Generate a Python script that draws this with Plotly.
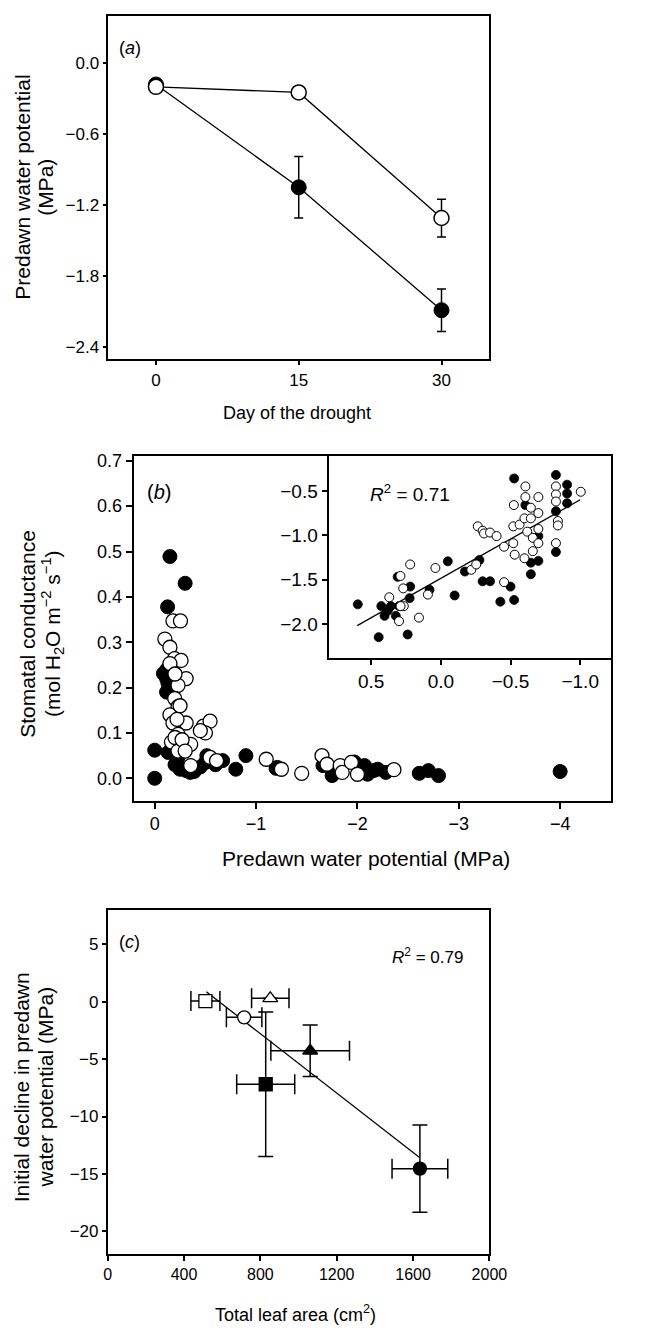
import plotly.graph_objects as go

W, H = 653, 1328

# ---------------- data ----------------
# panel (a)
days = [0, 15, 30]
psi_filled = [-0.18, -1.05, -2.09]
psi_filled_se = [0.0, 0.26, 0.18]
psi_open = [-0.20, -0.247, -1.31]
psi_open_se = [0.0, 0.0, 0.16]

# panel (b) main scatter: predawn water potential (MPa), stomatal conductance
b_filled_psi = [0.0, 0.0, -0.15, -0.30, -0.127, -0.117, -0.117, -0.133, -0.13, -0.12, -0.086, -0.117,
                -0.133, -0.20, -0.25, -0.30, -0.31, -0.39, -0.45, -0.50, -0.514, -0.60, -0.67,
                -0.80, -0.90, -1.197, -1.21, -1.66, -1.75, -1.97, -2.07, -2.10, -2.16, -2.20,
                -2.28, -2.61, -2.70, -2.80, -4.0, -0.23, -0.35]
b_filled_gs = [0.0, 0.062, 0.489, 0.43, 0.378, 0.231, 0.22, 0.195, 0.21, 0.24, 0.231, 0.19,
               0.057, 0.03, 0.02, 0.02, 0.017, 0.015, 0.025, 0.035, 0.05, 0.03, 0.039,
               0.02, 0.05, 0.022, 0.024, 0.028, 0.006, 0.036, 0.028, 0.009, 0.017, 0.02,
               0.013, 0.011, 0.017, 0.006, 0.015, 0.046, 0.013]
b_open_psi = [-0.18, -0.254, -0.10, -0.15, -0.197, -0.26, -0.15, -0.31, -0.23, -0.197, -0.23, -0.15,
              -0.18, -0.31, -0.48, -0.546, -0.50, -0.23, -0.165, -0.355, -0.23, -0.355, -0.546,
              -0.61, -1.10, -1.25, -1.45, -1.65, -1.70, -1.83, -1.85, -1.94, -2.0, -2.36,
              -0.20, -0.25, -0.20, -0.27, -0.30, -0.22, -0.45]
b_open_gs = [0.347, 0.347, 0.307, 0.289, 0.264, 0.26, 0.253, 0.22, 0.205, 0.176, 0.158, 0.14,
             0.122, 0.122, 0.115, 0.126, 0.10, 0.097, 0.08, 0.075, 0.06, 0.028, 0.046,
             0.039, 0.042, 0.02, 0.011, 0.05, 0.031, 0.028, 0.013, 0.035, 0.009, 0.019,
             0.23, 0.16, 0.09, 0.085, 0.06, 0.13, 0.105]

# panel (b) inset
in_filled_x = [0.596, 0.427, 0.358, 0.404, 0.323, 0.446, 0.238, 0.31, 0.22, 0.224, 0.081, -0.099,
               -0.05, -0.173, -0.277, -0.30, -0.353, -0.50, -0.427, -0.526, -0.526, -0.607, -0.70,
               -0.646, -0.70, -0.646, -0.826, -0.826, -0.826, -0.906, -0.906, -0.906, 0.38, 0.30]
in_filled_y = [-1.78, -1.80, -1.80, -1.91, -1.91, -2.15, -2.12, -1.47, -1.58, -1.71, -1.615, -1.68,
               -1.295, -1.41, -1.28, -1.52, -1.52, -1.58, -1.75, -1.73, -0.36, -0.66, -1.01,
               -1.31, -1.29, -1.44, -0.32, -0.73, -1.19, -0.43, -0.53, -0.64, -1.85, -1.80]
in_open_x = [0.37, 0.22, 0.29, 0.27, 0.266, 0.289, 0.30, 0.157, 0.039, 0.093, -0.219, -0.254,
             -0.265, -0.30, -0.31, -0.353, -0.40, -0.454, -0.454, -0.52, -0.53, -0.52, -0.565,
             -0.524, -0.607, -0.607, -0.646, -0.70, -0.70, -0.60, -0.646, -0.70, -0.62, -0.66,
             -0.70, -0.66, -0.60, -0.826, -0.826, -0.826, -0.84, -0.84, -0.826, -1.004]
in_open_y = [-1.70, -1.33, -1.46, -1.60, -1.80, -1.80, -1.97, -1.93, -1.37, -1.67, -1.39, -1.33,
             -0.90, -0.95, -0.98, -0.97, -1.01, -1.53, -1.13, -1.09, -1.22, -0.90, -0.88,
             -0.66, -0.45, -0.57, -0.69, -0.57, -0.75, -0.81, -0.81, -0.93, -0.96, -1.03,
             -1.09, -1.18, -1.26, -0.45, -0.54, -0.62, -0.84, -0.89, -1.09, -0.51]
in_fit_x = [0.6, -1.0]
in_fit_y = [-2.02, -0.60]

# panel (c)
leaf_area = [512, 852, 715, 828, 1061, 1636]
leaf_area_err = [76, 98, 93, 152, 206, 146]
decline = [0.06, 0.3, -1.36, -7.19, -4.27, -14.54]
decline_err = [0.0, 0.0, 0.0, 6.3, 2.25, 3.8]
c_symbols = ["square", "triangle-up", "circle", "square", "triangle-up", "circle"]
c_fills = ["white", "white", "white", "black", "black", "black"]
c_fit_x = [517, 1636]
c_fit_y = [0.87, -13.6]

# ---------------- figure ----------------
REG = "Liberation Sans, Arial, sans-serif"

def fx(p):
    return p / W

def fy(p):
    return 1 - p / H

fig = go.Figure()

# panel a
fig.add_trace(go.Scatter(x=days, y=psi_filled, mode="lines+markers", xaxis="x", yaxis="y",
                         line=dict(color="black", width=1.3),
                         marker=dict(size=15, color="black", line=dict(color="black", width=1)),
                         error_y=dict(type="data", array=psi_filled_se, color="black", thickness=1.5, width=4.5),
                         showlegend=False))
fig.add_trace(go.Scatter(x=days, y=psi_open, mode="lines+markers", xaxis="x", yaxis="y",
                         line=dict(color="black", width=1.3),
                         marker=dict(size=15, color="white", line=dict(color="black", width=1.5)),
                         error_y=dict(type="data", array=psi_open_se, color="black", thickness=1.5, width=4.5),
                         showlegend=False))

# panel b
fig.add_trace(go.Scatter(x=b_filled_psi, y=b_filled_gs, mode="markers", xaxis="x2", yaxis="y2",
                         marker=dict(size=14, color="black", line=dict(color="black", width=1)),
                         showlegend=False))
fig.add_trace(go.Scatter(x=b_open_psi, y=b_open_gs, mode="markers", xaxis="x2", yaxis="y2",
                         marker=dict(size=14, color="white", line=dict(color="black", width=1.3)),
                         showlegend=False))
# inset
fig.add_trace(go.Scatter(x=in_fit_x, y=in_fit_y, mode="lines", xaxis="x3", yaxis="y3",
                         line=dict(color="black", width=1.3), showlegend=False))
fig.add_trace(go.Scatter(x=in_filled_x, y=in_filled_y, mode="markers", xaxis="x3", yaxis="y3",
                         marker=dict(size=9, color="black", line=dict(color="black", width=0.8)),
                         showlegend=False))
fig.add_trace(go.Scatter(x=in_open_x, y=in_open_y, mode="markers", xaxis="x3", yaxis="y3",
                         marker=dict(size=9, color="white", line=dict(color="black", width=1)),
                         showlegend=False))

# panel c
fig.add_trace(go.Scatter(x=c_fit_x, y=c_fit_y, mode="lines", xaxis="x4", yaxis="y4",
                         line=dict(color="black", width=1.3), showlegend=False))
fig.add_trace(go.Scatter(x=leaf_area, y=decline, mode="markers", xaxis="x4", yaxis="y4",
                         marker=dict(size=13, symbol=c_symbols, color=c_fills,
                                     line=dict(color="black", width=1.3)),
                         error_x=dict(type="data", array=leaf_area_err, color="black", thickness=1.5, width=10),
                         error_y=dict(type="data", array=decline_err, color="black", thickness=1.5, width=7.5),
                         showlegend=False))

axis_common = dict(showline=True, linecolor="black", linewidth=1.6, mirror=True, ticks="outside",
                   tickcolor="black", tickwidth=1.5, showgrid=False, zeroline=False)

fig.update_layout(
    width=W, height=H, margin=dict(l=0, r=0, t=0, b=0),
    paper_bgcolor="white", plot_bgcolor="white",
    xaxis=dict(domain=[fx(108), fx(502)], range=[-5, 35], tickvals=[0, 15, 30], anchor="y",
               ticklen=5, tickfont=dict(family=REG, size=17, color="black"), **axis_common),
    yaxis=dict(domain=[fy(355), fy(11)], range=[-2.5, 0.4], tickvals=[0, -0.6, -1.2, -1.8, -2.4],
               tickformat=".1f", anchor="x", ticklen=4,
               tickfont=dict(family=REG, size=17, color="black"), **axis_common),
    xaxis2=dict(domain=[fx(135), fx(628)], range=[0.2, -4.5], tickvals=[0, -1, -2, -3, -4], anchor="y2",
                ticklen=6, tickfont=dict(family=REG, size=18, color="black"), **axis_common),
    yaxis2=dict(domain=[fy(799), fy(453)], range=[-0.05, 0.71], dtick=0.1, tick0=0, tickformat=".1f",
                anchor="x2", ticklen=7, tickfont=dict(family=REG, size=18, color="black"), **axis_common),
    xaxis3=dict(domain=[fx(336.7), fx(628)], range=[0.8, -1.22], tickvals=[0.5, 0, -0.5, -1.0],
                tickformat=".1f", anchor="y3", ticklen=6,
                tickfont=dict(family=REG, size=19, color="black"), **axis_common),
    yaxis3=dict(domain=[fy(655), fy(453)], range=[-2.38, -0.11], tickvals=[-0.5, -1.0, -1.5, -2.0],
                tickformat=".1f", anchor="x3", ticklen=6,
                tickfont=dict(family=REG, size=19, color="black"), **axis_common),
    xaxis4=dict(domain=[fx(107.3), fx(502.3)], range=[0, 2000], tickvals=[0, 400, 800, 1200, 1600, 2000],
                anchor="y4", ticklen=5, tickfont=dict(family=REG, size=16, color="black"), **axis_common),
    yaxis4=dict(domain=[fy(1254), fy(908.3)], range=[-22, 8], tickvals=[5, 0, -5, -10, -15, -20],
                anchor="x4", ticklen=4, tickfont=dict(family=REG, size=17, color="black"), **axis_common),
)

def ann(text, x, y, size, family=REG, angle=0, xanchor="center"):
    fig.add_annotation(text=text, x=fx(x), y=fy(y), xref="paper", yref="paper", showarrow=False,
                       xanchor=xanchor, yanchor="middle", textangle=angle,
                       font=dict(family=family, size=size, color="black"))

# axis titles
ann("Predawn water potential", 19, 183, 21, angle=-90)
ann("(MPa)", 43, 183, 21, angle=-90)
ann("Day of the drought", 303, 410, 18)

ann("Stomatal conductance", 24, 631, 21, angle=-90)
ann("(mol H<sub>2</sub>O m<sup>\u22122</sup> s<sup>\u22121</sup>)", 50, 631, 21, angle=-90)
ann("Predawn water potential (MPa)", 375, 857, 21)

ann("Initial decline in predawn", 19, 1086, 21, angle=-90)
ann("water potential (MPa)", 43, 1086, 21, angle=-90)
ann("Total leaf area (cm<sup>2</sup>)", 302, 1313, 18)

# panel labels and R2
ann("(<i>a</i>)", 130, 43, 18)
ann("(<i>b</i>)", 160, 489, 20)
ann("(<i>c</i>)", 130, 941, 18)
ann("<i>R</i><sup>2</sup> = 0.71", 420, 490, 19)
ann("<i>R</i><sup>2</sup> = 0.79", 438, 955, 17)

fig.write_html("out.html", config={"displayModeBar": False},
               post_script="document.body.style.margin='0';document.body.style.padding='0';"
                           "document.documentElement.style.overflow='hidden';")
